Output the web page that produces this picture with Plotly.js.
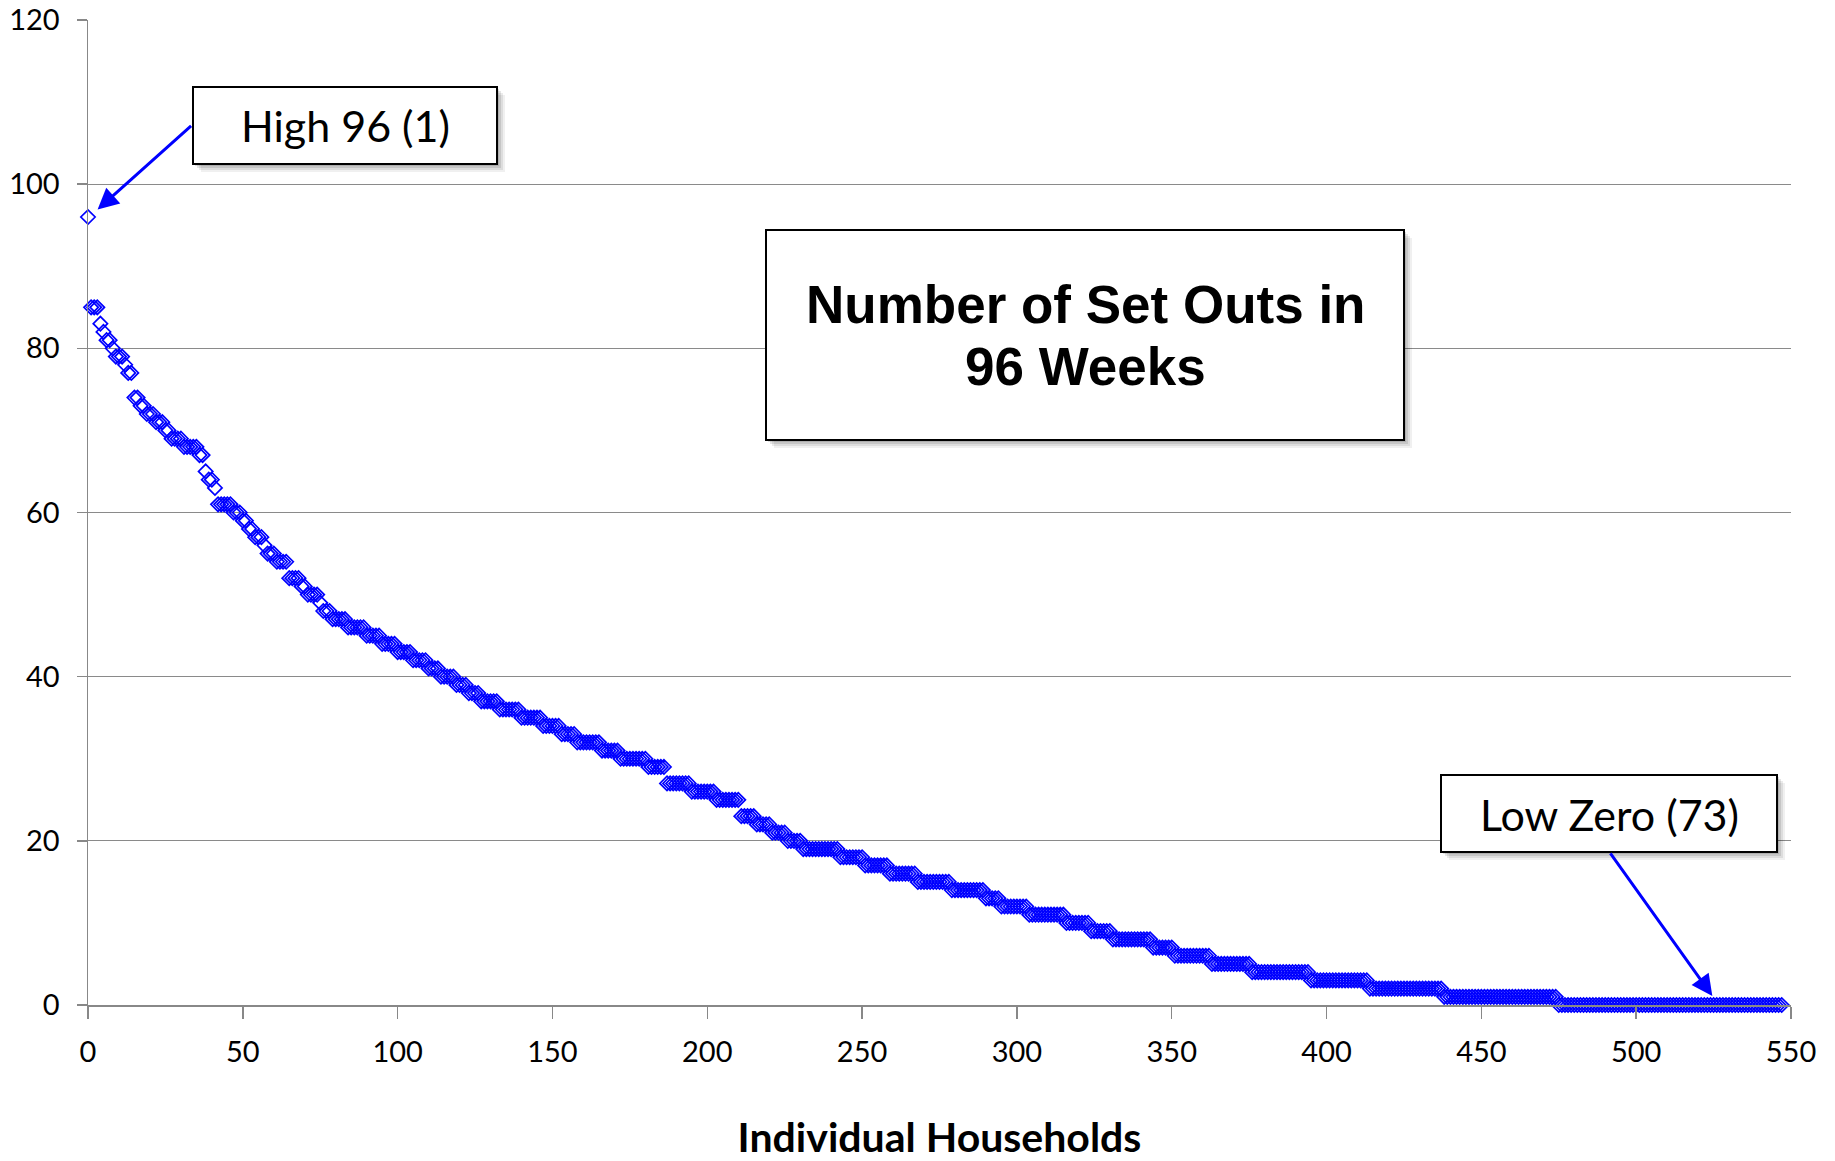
<!DOCTYPE html>
<html><head><meta charset="utf-8">
<script src="https://cdn.plot.ly/plotly-3.0.1.min.js"></script>
<style>html,body{margin:0;padding:0;background:#fff}#chart{width:1835px;height:1161px}</style>
</head><body><div id="chart"></div>
<script>
// Number of set outs (distinct values, sorted high to low)
const setOutLevels = [96,85,83,82,81,80,79,78,77,74,73,72,71,70,69,68,67,65,64,63,61,60,59,58,57,56,55,54,52,51,50,49,48,47,46,45,44,43,42,41,40,39,38,37,36,35,34,33,32,31,30,29,27,26,25,23,22,21,20,19,18,17,16,15,14,13,12,11,10,9,8,7,6,5,4,3,2,1,0];
const householdCounts = [1,3,1,1,2,1,3,1,2,2,2,3,3,2,4,5,2,1,2,1,5,3,2,2,3,1,3,4,4,2,4,1,3,5,6,5,5,5,5,4,5,4,4,6,7,7,6,5,8,6,9,6,8,8,8,5,5,5,5,12,8,8,9,11,11,5,9,12,8,7,13,7,12,13,19,19,24,37,73];
const xTickVals = [0,50,100,150,200,250,300,350,400,450,500,550];
const yTickVals = [0,20,40,60,80,100,120];
const xTitle = 'Individual Households';
const chartTitleLines = ['Number of Set Outs in', '96 Weeks'];
const highLabel = 'High 96 (1)';
const lowLabel = 'Low Zero (73)';

// expand levels into one point per household
const households = [];
const setOuts = [];
setOutLevels.forEach((lvl, i) => {
  for (let k = 0; k < householdCounts[i]; k++) { households.push(households.length); setOuts.push(lvl); }
});

// plot area in page pixels
const L = 88, R = 1791, T = 20, B = 1005;
const px = v => (v - L) / (R - L);
const py = v => (B - v) / (B - T);

function boxShapes(x0, y0, x1, y1) {
  const s = [];
  [[8,0.06],[6,0.08],[4,0.10],[2,0.12]].forEach(([o,a]) => {
    s.push({type:'rect', xref:'paper', yref:'paper', layer:'above',
      x0:px(x0+o), x1:px(x1+o), y0:py(y0+o), y1:py(y1+o),
      line:{width:0}, fillcolor:'rgba(0,0,0,'+a+')'});
  });
  s.push({type:'rect', xref:'paper', yref:'paper', layer:'above',
    x0:px(x0), x1:px(x1), y0:py(y0), y1:py(y1),
    line:{color:'#000', width:2}, fillcolor:'#fff'});
  return s;
}

const shapes = [].concat(
  boxShapes(193, 87, 497, 164),
  boxShapes(766, 230, 1404, 440),
  boxShapes(1441, 775, 1777, 852)
);

const txt = (text, cx, cy, font) => ({
  text, xref:'paper', yref:'paper', x:px(cx), y:py(cy),
  xanchor:'center', yanchor:'middle', showarrow:false, font
});

const annFont = {family:'Lato, sans-serif', size:43, color:'#000'};
const titleFont = {family:'Liberation Sans, Arial, sans-serif', size:53, color:'#000'};

const annotations = [
  txt(highLabel, 345, 126, annFont),
  txt(lowLabel, 1609, 814, annFont),
  txt('<b>' + chartTitleLines[0] + '</b>', 1085.5, 304, titleFont),
  txt('<b>' + chartTitleLines[1] + '</b>', 1085.5, 367, titleFont),
  {x:3.1, y:96.9, xref:'x', yref:'y', ax:95, ay:-85, text:'', showarrow:true,
   arrowhead:2, arrowsize:1.4, arrowwidth:3, arrowcolor:'#0000FF', standoff:0},
  {x:524.6, y:1.1, xref:'x', yref:'y', ax:-103, ay:-144, text:'', showarrow:true,
   arrowhead:2, arrowsize:1.4, arrowwidth:3, arrowcolor:'#0000FF', standoff:0}
];

const trace = {
  x: households, y: setOuts, type:'scatter', mode:'markers', cliponaxis:false,
  marker:{symbol:'diamond-open', size:11, color:'#0000FF', line:{color:'#0000FF', width:1.7}},
  hoverinfo:'x+y'
};

const tickFont = {family:'Lato, sans-serif', size:29, color:'#000'};
const layout = {
  width:1835, height:1161,
  margin:{l:L, r:1835-R, t:T, b:1161-B, pad:0},
  paper_bgcolor:'#fff', plot_bgcolor:'#fff', showlegend:false,
  xaxis:{range:[0,550], tickmode:'array', tickvals:xTickVals, ticktext:xTickVals.map(String),
    ticks:'outside', ticklen:12, tickwidth:1.5, tickcolor:'#888',
    showline:true, linecolor:'#888', linewidth:1.5, showgrid:false, zeroline:false,
    tickfont:tickFont, ticklabelstandoff:9,
    title:{text:'<b>' + xTitle + '</b>', font:{family:'Lato, sans-serif', size:41, color:'#000'}, standoff:60}},
  yaxis:{range:[0,120], tickmode:'array', tickvals:yTickVals, ticktext:yTickVals.map(String),
    ticks:'outside', ticklen:10, tickwidth:1.5, tickcolor:'#888',
    showline:true, linecolor:'#888', linewidth:1.5, showgrid:true, gridcolor:'#8a8a8a', gridwidth:1.3,
    zeroline:false, tickfont:tickFont, ticklabelstandoff:11},
  shapes, annotations
};

Plotly.newPlot('chart', [trace], layout, {displayModeBar:false, staticPlot:true});
</script></body></html>
